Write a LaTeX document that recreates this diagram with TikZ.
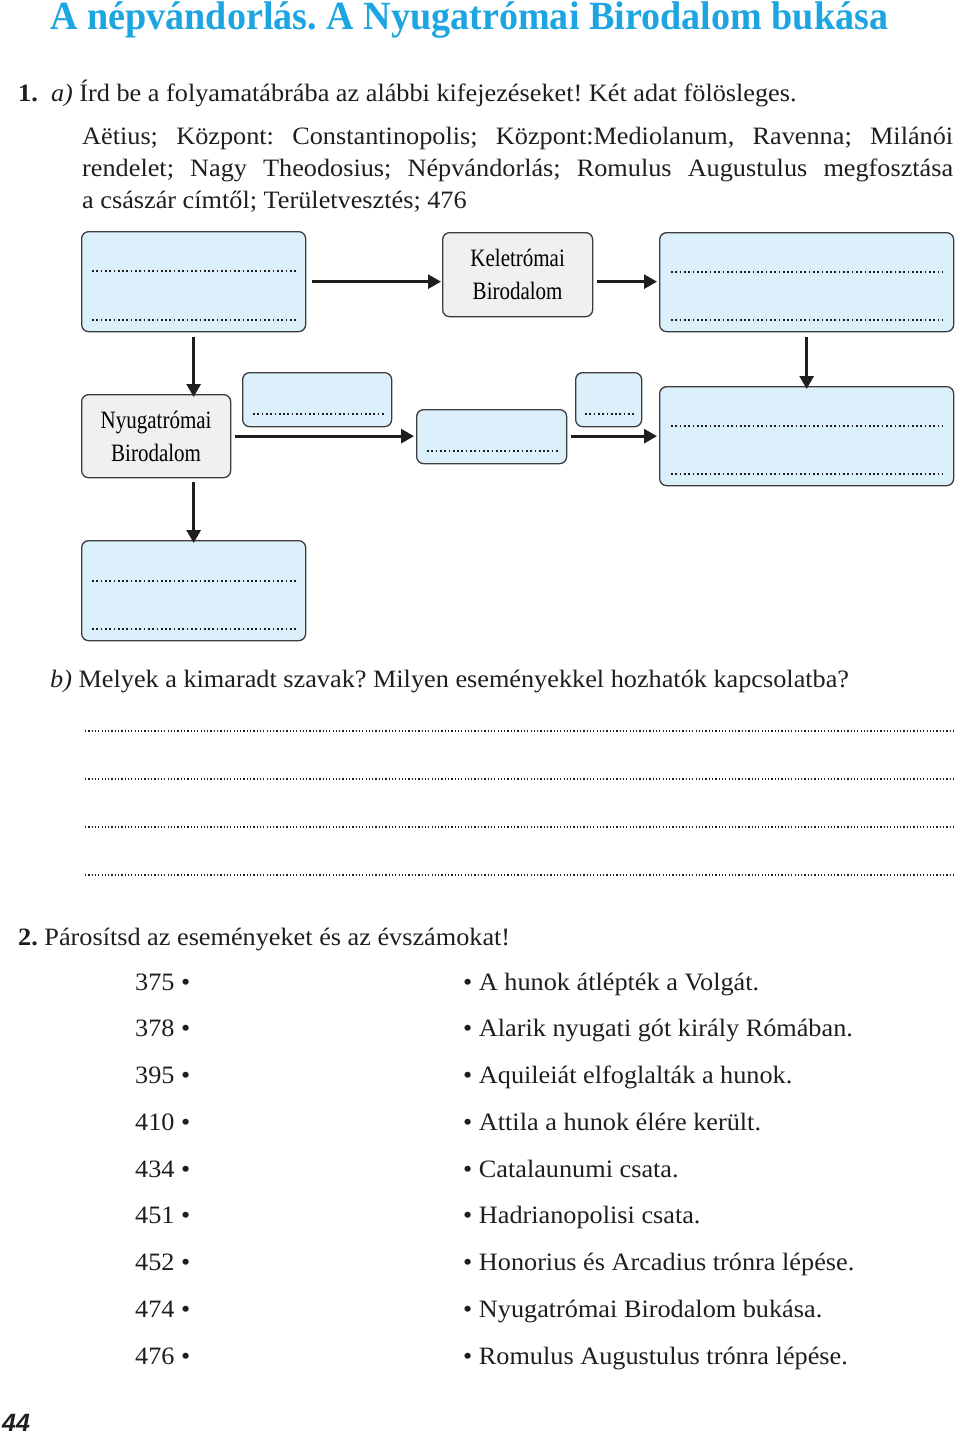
\documentclass[tikz,border=0pt]{standalone}
\usepackage{fontspec}
\setmainfont{Liberation Serif}[FakeStretch=1.05]
\newfontfamily\titlefont{Liberation Serif}[FakeStretch=0.953]
\newfontfamily\condfont{Liberation Serif}[FakeStretch=0.84]
\newfontfamily\pagefont{Liberation Sans}
\usetikzlibrary{arrows.meta}
\frenchspacing
\definecolor{titleblue}{RGB}{28,165,225}
\definecolor{boxblue}{RGB}{220,240,252}
\definecolor{boxgray}{RGB}{240,240,240}
\definecolor{boxline}{RGB}{60,60,60}
\definecolor{ink}{RGB}{30,30,30}
\tikzset{
  bluebox/.style={draw=boxline, fill=boxblue, rounded corners=7pt, line width=1.3pt, inner sep=0pt, anchor=north west},
  graybox/.style={draw=boxline, fill=boxgray, rounded corners=7pt, line width=1.3pt, inner sep=0pt, anchor=north west, align=center, font=\condfont\fontsize{25}{33}\selectfont},
  arr/.style={draw=ink, line width=2.8pt, -{Triangle[length=13pt,width=14pt]}},
  dotline/.style={draw=ink, line width=1.9pt, dash pattern=on 1.7pt off 2.6pt},
  thindots/.style={draw=ink, line width=1.3pt, dash pattern=on 1.2pt off 2.1pt},
  txt/.style={anchor=base west, inner sep=0pt, text=ink, font=\fontsize{25}{28}\selectfont},
}
\begin{document}
\begin{tikzpicture}[x=1pt,y=-1pt]
\useasboundingbox (0,0) rectangle (960,1435);
% title
\node[anchor=base west, inner sep=0pt, text=titleblue, font=\titlefont\bfseries\fontsize{40}{44}\selectfont] (title) at (50,29) {A népvándorlás. A Nyugatrómai Birodalom bukása};
% task 1
\node[txt] (t1) at (18,101) {\textbf{1.}\ \ \textit{a)} Írd be a folyamatábrába az alábbi kifejezéseket! Két adat fölösleges.};
\node[txt] (p1) at (82,144) {\makebox[871pt][s]{Aëtius; Központ: Constantinopolis; Központ:Mediolanum, Ravenna; Milánói}};
\node[txt] (p2) at (82,176) {\makebox[871pt][s]{rendelet; Nagy Theodosius; Népvándorlás; Romulus Augustulus megfosztása}};
\node[txt] (p3) at (82,208) {a császár címtől; Területvesztés; 476};
% boxes
\node[bluebox, minimum width=224pt, minimum height=100pt] (A) at (81,231) {};
\node[graybox, minimum width=150pt, minimum height=84pt] (K) at (442,232) {Keletrómai\\Birodalom};
\node[bluebox, minimum width=294pt, minimum height=99pt] (B) at (659,232) {};
\node[graybox, minimum width=149pt, minimum height=83pt] (N) at (81,394) {Nyugatrómai\\Birodalom};
\node[bluebox, minimum width=149pt, minimum height=54pt] (S1) at (242,372) {};
\node[bluebox, minimum width=150pt, minimum height=54pt] (M) at (416,409) {};
\node[bluebox, minimum width=66pt, minimum height=54pt] (S2) at (575,372) {};
\node[bluebox, minimum width=294pt, minimum height=99pt] (C) at (659,386) {};
\node[bluebox, minimum width=224pt, minimum height=100pt] (D) at (81,540) {};
% dotted answer lines in boxes
\draw[dotline] (92,271) -- (296,271);
\draw[dotline] (92,320) -- (296,320);
\draw[dotline] (671,272) -- (943,272);
\draw[dotline] (671,320) -- (943,320);
\draw[dotline] (253,414) -- (384,414);
\draw[dotline] (427,451) -- (559,451);
\draw[dotline] (585,414) -- (634,414);
\draw[dotline] (671,426) -- (943,426);
\draw[dotline] (671,474) -- (943,474);
\draw[dotline] (92,581) -- (296,581);
\draw[dotline] (92,629) -- (296,629);
% connectors
\draw[arr] ([xshift=6pt]A.east) -- ([xshift=-1pt]A.east -| K.west);
\draw[arr] ([xshift=4pt]K.east |- A.east) -- ([xshift=-2pt]A.east -| B.west);
\draw[arr] ([yshift=-5pt]A.south) -- ([yshift=-3pt]A.south |- N.north);
\draw[arr] ([xshift=4pt]N.east) -- ([xshift=-2pt]N.east -| M.west);
\draw[arr] ([xshift=4pt]N.east -| M.east) -- ([xshift=-2pt]N.east -| C.west);
\draw[arr] ([yshift=-5pt]B.south) -- ([yshift=-3pt]C.north);
\draw[arr] ([yshift=-4pt]N.south -| A.south) -- ([yshift=-3pt]D.north);
% part b
\node[txt] (tb) at (50,687) {\textit{b)}\ Melyek a kimaradt szavak? Milyen eseményekkel hozhatók kapcsolatba?};
\draw[thindots] (85,731) -- (953,731);
\draw[thindots] (85,779) -- (953,779);
\draw[thindots] (85,827) -- (953,827);
\draw[thindots] (85,875) -- (953,875);
% task 2
\node[txt] (t2) at (18,945) {\textbf{2.}\ Párosítsd az eseményeket és az évszámokat!};
\foreach \yr/\ev [count=\i from 0] in {375/A hunok átlépték a Volgát., 378/Alarik nyugati gót király Rómában., 395/Aquileiát elfoglalták a hunok., 410/Attila a hunok élére került., 434/Catalaunumi csata., 451/Hadrianopolisi csata., 452/Honorius és Arcadius trónra lépése., 474/Nyugatrómai Birodalom bukása., 476/Romulus Augustulus trónra lépése.}{
  \node[txt] (y\i) at (135,{990+46.75*\i}) {\yr\ •};
  \node[txt] (e\i) at (463,{990+46.75*\i}) {• \ev};
}
% page number
\node[anchor=base west, inner sep=0pt, text=ink, font=\pagefont\bfseries\itshape\fontsize{25}{28}\selectfont] (pg) at (2,1431) {44};
\end{tikzpicture}
\end{document}
